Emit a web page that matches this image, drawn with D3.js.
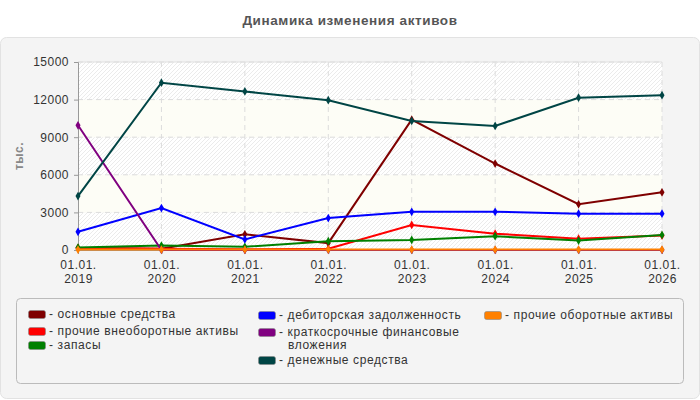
<!DOCTYPE html>
<html>
<head>
<meta charset="utf-8">
<script src="https://cdn.jsdelivr.net/npm/d3@7"></script>
<style>
  body { margin: 0; background: #fff; font-family: "Liberation Sans", Arial, sans-serif; }
  .axis text { font-size: 12px; fill: #333; letter-spacing: 0.5px; }
  .axis path, .axis line { stroke: #999; }
  .legend text { font-size: 12px; fill: #333; letter-spacing: 0.6px; }
</style>
</head>
<body>
<div id="chart"></div>
<script>
// chart data
const years = ["2019", "2020", "2021", "2022", "2023", "2024", "2025", "2026"];
const yTicks = [0, 3000, 6000, 9000, 12000, 15000];

const seriesNames = [
    "основные средства",
    "прочие внеоборотные активы",
    "запасы",
    "дебиторская задолженность",
    "краткосрочные финансовые вложения",
    "денежные средства",
    "прочие оборотные активы"
];
const seriesColors = ["#7f0000", "#ff0000", "#008000", "#0000ff", "#800080", "#004545", "#ff8000"];

const osnovnye = [150, 100, 1250, 550, 10400, 6900, 3650, 4600];
const prochieVneob = [150, 100, 50, 100, 2000, 1300, 900, 1150];
const zapasy = [200, 350, 250, 700, 800, 1100, 750, 1200];
const debitorka = [1450, 3350, 850, 2550, 3050, 3050, 2900, 2900];
const kfv = [9950, 0, 0, 0, 0, 0, 0, 0];
const dengi = [4300, 13350, 12650, 11950, 10300, 9900, 12150, 12350];
const prochieOb = [30, 30, 30, 30, 30, 30, 30, 30];

const seriesValues = [osnovnye, prochieVneob, zapasy, debitorka, kfv, dengi, prochieOb];

const W = 700, H = 400;
const margin = {top: 62, left: 78, right: 38, bottom: 150};
const width = W - margin.left - margin.right;
const height = H - margin.top - margin.bottom;

const svg = d3.select("#chart").append("svg")
    .attr("width", W)
    .attr("height", H);

const defs = svg.append("defs");
const hatch = defs.append("pattern")
    .attr("id", "hatch")
    .attr("patternUnits", "userSpaceOnUse")
    .attr("width", 4)
    .attr("height", 4);
hatch.append("rect").attr("width", 4).attr("height", 4).attr("fill", "#ffffff");
hatch.append("path")
    .attr("d", "M-1,1 l2,-2 M0,4 l4,-4 M3,5 l2,-2")
    .attr("stroke", "#ebebeb")
    .attr("stroke-width", 1);

// title
svg.append("text")
    .attr("x", W / 2)
    .attr("y", 25)
    .attr("text-anchor", "middle")
    .style("font-size", "13.5px")
    .style("font-weight", "bold")
    .style("letter-spacing", "0.6px")
    .style("fill", "#555")
    .text("Динамика изменения активов");

// panel
svg.append("rect")
    .attr("x", 0.5).attr("y", 37.5)
    .attr("width", W - 1).attr("height", H - 39)
    .attr("rx", 6)
    .attr("fill", "#f4f4f4")
    .attr("stroke", "#e2e2e2");

const g = svg.append("g")
    .attr("transform", `translate(${margin.left},${margin.top})`);

const x = d3.scalePoint()
    .domain(years)
    .range([0, width]);

const y = d3.scaleLinear()
    .domain([0, 15000])
    .range([height, 0]);

// alternating bands
g.selectAll("rect.band")
    .data(d3.pairs(yTicks))
    .join("rect")
    .attr("class", "band")
    .attr("x", 0)
    .attr("width", width)
    .attr("y", d => y(d[1]))
    .attr("height", d => y(d[0]) - y(d[1]))
    .attr("fill", (d, i) => i % 2 === 0 ? "url(#hatch)" : "#fdfdf6");

// grid
g.append("g")
    .selectAll("line")
    .data(yTicks.slice(1))
    .join("line")
    .attr("x1", 0).attr("x2", width)
    .attr("y1", d => y(d)).attr("y2", d => y(d))
    .attr("stroke", "#dcdcdc")
    .attr("stroke-dasharray", "5,4");

g.append("g")
    .selectAll("line")
    .data(years.slice(1))
    .join("line")
    .attr("x1", d => x(d)).attr("x2", d => x(d))
    .attr("y1", 0).attr("y2", height)
    .attr("stroke", "#dcdcdc")
    .attr("stroke-dasharray", "5,4");

// top border
g.append("line")
    .attr("x1", 0).attr("x2", width)
    .attr("y1", 0).attr("y2", 0)
    .attr("stroke", "#e0e0e0");

// axes
const yAxis = d3.axisLeft(y).tickValues(yTicks).tickSize(4).tickFormat(d3.format("d"));
g.append("g")
    .attr("class", "axis")
    .call(yAxis)
    .call(s => s.selectAll("text").attr("x", -9))
    .call(s => s.select(".domain").attr("d", `M-4,0.5H0.5V${height}`));

const xAxis = d3.axisBottom(x).tickSize(4).tickFormat("");
const xg = g.append("g")
    .attr("class", "axis")
    .attr("transform", `translate(0,${height})`)
    .call(xAxis);
xg.select(".domain").attr("d", `M0,0.5H${width}`);
xg.selectAll(".tick").each(function(d) {
    const t = d3.select(this).append("text")
        .attr("text-anchor", "middle")
        .attr("fill", "#333");
    t.append("tspan").attr("x", 0).attr("y", 18.5).text("01.01.");
    t.append("tspan").attr("x", 0).attr("y", 32.5).text(d);
});

// y label
svg.append("text")
    .attr("transform", `translate(23,156) rotate(-90)`)
    .attr("text-anchor", "middle")
    .style("font-size", "12px")
    .style("font-weight", "bold")
    .style("letter-spacing", "0.5px")
    .style("fill", "#888")
    .text("тыс.");

// lines
const line = d3.line()
    .x((d, i) => x(years[i]))
    .y(d => y(d));

const series = g.append("g")
    .selectAll("g")
    .data(seriesValues)
    .join("g");

series.append("path")
    .attr("d", d => line(d))
    .attr("fill", "none")
    .attr("stroke", (d, i) => seriesColors[i])
    .attr("stroke-width", 2);

series.each(function(vals, si) {
    d3.select(this).selectAll("path.marker")
        .data(vals)
        .join("path")
        .attr("class", "marker")
        .attr("d", d3.symbol(d3.symbolDiamond, 22))
        .attr("transform", (d, i) => `translate(${x(years[i])},${y(d)})`)
        .attr("fill", seriesColors[si]);
});

// legend
const legend = svg.append("g").attr("class", "legend");
legend.append("rect")
    .attr("x", 16.5).attr("y", 298.5)
    .attr("width", 667).attr("height", 85)
    .attr("rx", 4)
    .attr("fill", "#f4f4f4")
    .attr("stroke", "#bbb");

const legendPos = [
    [28, 314], [28, 331], [28, 345],
    [258, 315], [258, 332], [258, 360],
    [484, 315]
];
const legendLines = [
    ["основные средства"],
    ["прочие внеоборотные активы"],
    ["запасы"],
    ["дебиторская задолженность"],
    ["краткосрочные финансовые", "вложения"],
    ["денежные средства"],
    ["прочие оборотные активы"]
];

const items = legend.selectAll("g.item")
    .data(seriesNames)
    .join("g")
    .attr("class", "item")
    .attr("transform", (d, i) => `translate(${legendPos[i][0]},${legendPos[i][1]})`);

items.append("rect")
    .attr("x", 0.5).attr("y", -3.5)
    .attr("width", 17).attr("height", 8)
    .attr("rx", 2)
    .attr("fill", (d, i) => seriesColors[i])
    .attr("stroke", "#888")
    .attr("stroke-width", 0.6);

items.append("text")
    .attr("x", 21)
    .attr("y", 4)
    .each(function(d, i) {
        const t = d3.select(this);
        legendLines[i].forEach((ln, j) => {
            t.append("tspan")
                .attr("x", j === 0 ? 21 : 30)
                .attr("dy", j === 0 ? 0 : 13)
                .text(j === 0 ? "- " + ln : ln);
        });
    });
</script>
</body>
</html>
